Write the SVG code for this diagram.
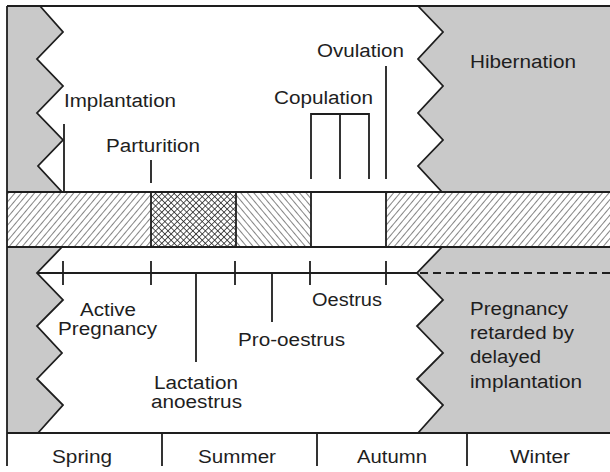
<svg xmlns="http://www.w3.org/2000/svg" width="610" height="472" viewBox="0 0 610 472">
<style>
text{font-family:"Liberation Sans",Arial,sans-serif;font-size:18px;fill:#1e1e1e}
.ln{stroke:#1e1e1e;stroke-width:1.8;fill:none}
.gray{fill:#c9c9c9}
.zz{stroke:#1e1e1e;stroke-width:1.8;fill:none;stroke-linejoin:miter}
</style>
<defs>
<pattern id="fwd" patternUnits="userSpaceOnUse" width="5" height="5" patternTransform="rotate(40)">
<rect width="5" height="5" fill="#fff"/>
<line x1="0" y1="0" x2="0" y2="5" stroke="#333" stroke-width="1.2"/>
</pattern>
<pattern id="back" patternUnits="userSpaceOnUse" width="5" height="5" patternTransform="rotate(-40)">
<rect width="5" height="5" fill="#fff"/>
<line x1="0" y1="0" x2="0" y2="5" stroke="#333" stroke-width="1.2"/>
</pattern>
<pattern id="cross" patternUnits="userSpaceOnUse" width="4.4" height="4.4" patternTransform="rotate(45)">
<rect width="4.4" height="4.4" fill="#fff"/>
<line x1="0" y1="0" x2="0" y2="4.4" stroke="#222" stroke-width="1.5"/>
<line x1="0" y1="0" x2="4.4" y2="0" stroke="#222" stroke-width="1.5"/>
</pattern>
</defs>
<rect width="610" height="472" fill="#fff"/>

<g id="gray-areas">
<polygon class="gray" points="7,6 40,6 63,32 37,59 63,86 37,113 63,140 38,166 62,192 7,192"/>
<polygon class="gray" points="418,6 443,32 418,59 443,86 418,113 443,140 418,166 442,192 610,192 610,6"/>
<polygon class="gray" points="7,247 62,247 37,273 63,300 37,326 62,353 37,379 63,405 38,433 7,433"/>
<polygon class="gray" points="442,247 417,273 443,300 417,326 443,353 417,379 443,405 418,433 610,433 610,247"/>
</g>

<g id="band">
<rect x="7" y="192" width="144" height="55" fill="url(#fwd)"/>
<rect x="151" y="192" width="85" height="55" fill="url(#cross)"/>
<rect x="236" y="192" width="75" height="55" fill="url(#back)"/>
<rect x="311" y="192" width="75" height="55" fill="#fff"/>
<rect x="386" y="192" width="224" height="55" fill="url(#fwd)"/>
<path class="ln" d="M151,192V247M236,192V247M311,192V247M386,192V247"/>
</g>

<g id="frame">
<path class="ln" d="M7,6H610M7,6V466M7,192H610M7,247H610M7,433H610"/>
<path class="ln" d="M162,433V466M317,433V466M467,433V466"/>
<polyline class="zz" points="40,6 63,32 37,59 63,86 37,113 63,140 38,166 62,192"/>
<polyline class="zz" points="418,6 443,32 418,59 443,86 418,113 443,140 418,166 442,192"/>
<polyline class="zz" points="62,247 37,273 63,300 37,326 62,353 37,379 63,405 38,433"/>
<polyline class="zz" points="442,247 417,273 443,300 417,326 443,353 417,379 443,405 418,433"/>
</g>

<g id="connectors">
<path class="ln" d="M64,124V192M151,160V183"/>
<path class="ln" d="M311,179V114H369V179M340,114V179M386,66V179"/>
<path class="ln" d="M37,273H417"/>
<path class="ln" d="M420,273H610" stroke-dasharray="8,5"/>
<path class="ln" d="M63,261V285M151,261V285M235,261V285M310,261V285M386,261V285"/>
<path class="ln" d="M196,273V362M272,273V322"/>
</g>

<g id="top-labels">
<text x="64" y="107" textLength="112" lengthAdjust="spacingAndGlyphs">Implantation</text>
<text x="106" y="152" textLength="94" lengthAdjust="spacingAndGlyphs">Parturition</text>
<text x="274" y="104" textLength="99" lengthAdjust="spacingAndGlyphs">Copulation</text>
<text x="317" y="57" textLength="87" lengthAdjust="spacingAndGlyphs">Ovulation</text>
<text x="470" y="68" textLength="106" lengthAdjust="spacingAndGlyphs">Hibernation</text>
</g>

<g id="bottom-labels">
<text x="80" y="316" textLength="56" lengthAdjust="spacingAndGlyphs">Active</text>
<text x="58" y="335" textLength="99" lengthAdjust="spacingAndGlyphs">Pregnancy</text>
<text x="154" y="389" textLength="84" lengthAdjust="spacingAndGlyphs">Lactation</text>
<text x="151" y="408" textLength="91" lengthAdjust="spacingAndGlyphs">anoestrus</text>
<text x="238" y="346" textLength="107" lengthAdjust="spacingAndGlyphs">Pro-oestrus</text>
<text x="312" y="306" textLength="70" lengthAdjust="spacingAndGlyphs">Oestrus</text>
<text x="470" y="315" textLength="98" lengthAdjust="spacingAndGlyphs">Pregnancy</text>
<text x="470" y="339" textLength="104" lengthAdjust="spacingAndGlyphs">retarded by</text>
<text x="470" y="363" textLength="71" lengthAdjust="spacingAndGlyphs">delayed</text>
<text x="470" y="388" textLength="112" lengthAdjust="spacingAndGlyphs">implantation</text>
</g>

<g id="seasons">
<text x="52" y="463" textLength="60" lengthAdjust="spacingAndGlyphs">Spring</text>
<text x="198" y="463" textLength="78" lengthAdjust="spacingAndGlyphs">Summer</text>
<text x="357" y="463" textLength="70" lengthAdjust="spacingAndGlyphs">Autumn</text>
<text x="510" y="463" textLength="60" lengthAdjust="spacingAndGlyphs">Winter</text>
</g>
</svg>
